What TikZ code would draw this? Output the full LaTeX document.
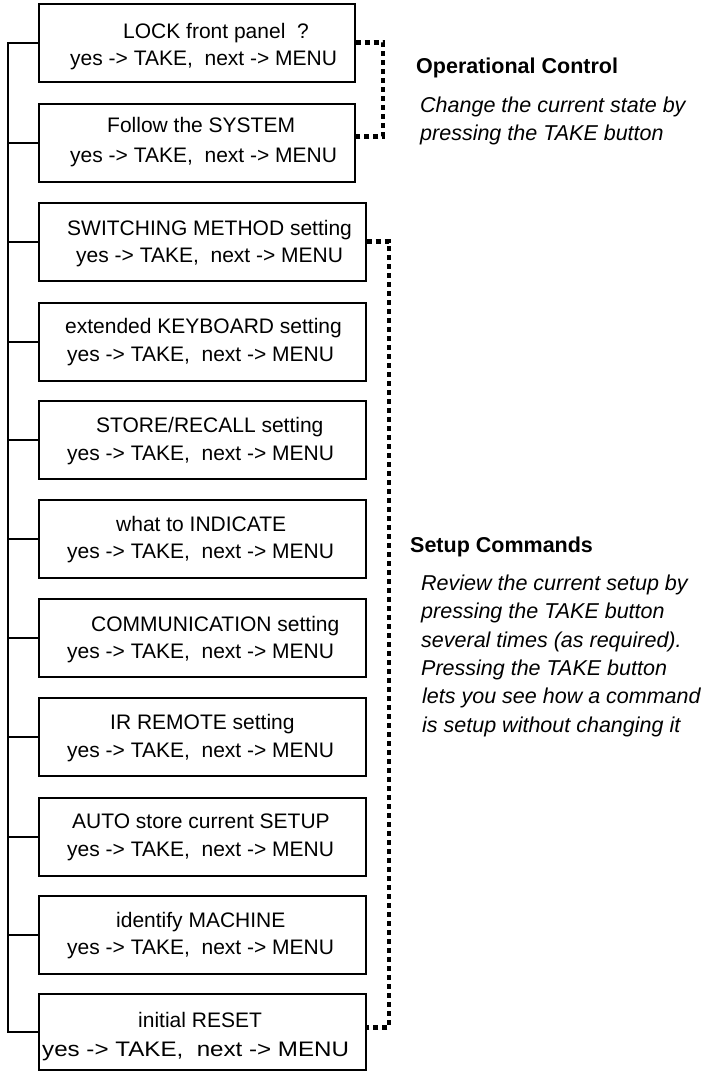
\documentclass[tikz,border=0pt]{standalone}
\usepackage{fontspec}
\setmainfont{Liberation Sans}
\newcommand{\yesnext}{yes -> TAKE,\ \ next -> MENU}
\begin{document}
\begin{tikzpicture}[x=1pt,y=-1pt,
  menubox/.style={draw, line width=1.6pt, minimum height=78pt, inner sep=0pt, anchor=north west},
  narrowbox/.style={menubox, minimum width=316pt},
  widebox/.style={menubox, minimum width=327pt},
  itemtxt/.style={anchor=base west, inner sep=0pt, font=\fontsize{21}{25}\selectfont},
  link/.style={line width=1.6pt},
  bracket/.style={line width=4.8pt, dash pattern=on 5pt off 4pt},
  headtxt/.style={anchor=base west, inner sep=0pt, font=\fontsize{21.5}{26}\selectfont\bfseries},
  notetxt/.style={anchor=base west, inner sep=0pt, font=\fontsize{21.5}{26}\selectfont\itshape}]
\useasboundingbox (0,0) rectangle (710,1072);

% menu entries
\node[narrowbox] (b1)  at (38,3)   {};
\node[narrowbox] (b2)  at (38,103) {};
\node[widebox]   (b3)  at (38,202) {};
\node[widebox]   (b4)  at (38,302) {};
\node[widebox]   (b5)  at (38,400) {};
\node[widebox]   (b6)  at (38,499) {};
\node[widebox]   (b7)  at (38,598) {};
\node[widebox]   (b8)  at (38,697) {};
\node[widebox]   (b9)  at (38,797) {};
\node[widebox]   (b10) at (38,895) {};
\node[widebox, minimum height=76pt] (b11) at (38,993) {};

% entry texts
\node[itemtxt] (t1a)  at (123,38)  {LOCK front panel\ \ ?};
\node[itemtxt] (t1b)  at (70,65)   {\yesnext};
\node[itemtxt] (t2a)  at (107,132) {Follow the SYSTEM};
\node[itemtxt] (t2b)  at (70,162)  {\yesnext};
\node[itemtxt] (t3a)  at (67,235)  {SWITCHING METHOD setting};
\node[itemtxt] (t3b)  at (76,262)  {\yesnext};
\node[itemtxt] (t4a)  at (65,333)  {extended KEYBOARD setting};
\node[itemtxt] (t4b)  at (67,361)  {\yesnext};
\node[itemtxt] (t5a)  at (96,432)  {STORE/RECALL setting};
\node[itemtxt] (t5b)  at (67,460)  {\yesnext};
\node[itemtxt] (t6a)  at (116,531) {what to INDICATE};
\node[itemtxt] (t6b)  at (67,558)  {\yesnext};
\node[itemtxt] (t7a)  at (91,631)  {COMMUNICATION setting};
\node[itemtxt] (t7b)  at (67,658)  {\yesnext};
\node[itemtxt] (t8a)  at (110,729) {IR REMOTE setting};
\node[itemtxt] (t8b)  at (67,757)  {\yesnext};
\node[itemtxt] (t9a)  at (72,828)  {AUTO store current SETUP};
\node[itemtxt] (t9b)  at (67,856)  {\yesnext};
\node[itemtxt] (t10a) at (116,927) {identify MACHINE};
\node[itemtxt] (t10b) at (67,954)  {\yesnext};
\node[itemtxt] (t11a) at (138,1027) {initial RESET};
\node[itemtxt] (t11b) at (42,1056) {\scalebox{1.15}[1]{\yesnext}};

% spine joining all entries on the left
\coordinate (spine) at (8,0);
\draw[link] (b1.west) -- (b1.west -| spine) -- (b11.west -| spine) -- (b11.west);
\foreach \b in {b2,b3,b4,b5,b6,b7,b8,b9,b10}
  \draw[link] (\b.west) -- (\b.west -| spine);

% dotted group brackets
\coordinate (opx) at (383,0);
\coordinate (stx) at (389,0);
\draw[bracket] (b1.east) -- (b1.east -| opx) -- ([yshift=6pt]b2.east -| opx) -- ([yshift=6pt]b2.east);
\draw[bracket] (b3.east) -- (b3.east -| stx) -- ([yshift=4pt]b11.east -| stx) -- ([yshift=4pt]b11.east);

% group descriptions
\node[headtxt] (ophead) at (416,73) {Operational Control};
\node[notetxt] (op1) at (420,112) {Change the current state by};
\node[notetxt] (op2) at (420,140) {pressing the TAKE button};

\node[headtxt] (sthead) at (410,552) {Setup Commands};
\node[notetxt] (st1) at (421,590) {Review the current setup by};
\node[notetxt] (st2) at (421,618) {pressing the TAKE button};
\node[notetxt] (st3) at (421,647) {several times (as required).};
\node[notetxt] (st4) at (421,675) {Pressing the TAKE button};
\node[notetxt] (st5) at (422,703) {lets you see how a command};
\node[notetxt] (st6) at (422,732) {is setup without changing it};
\end{tikzpicture}
\end{document}
